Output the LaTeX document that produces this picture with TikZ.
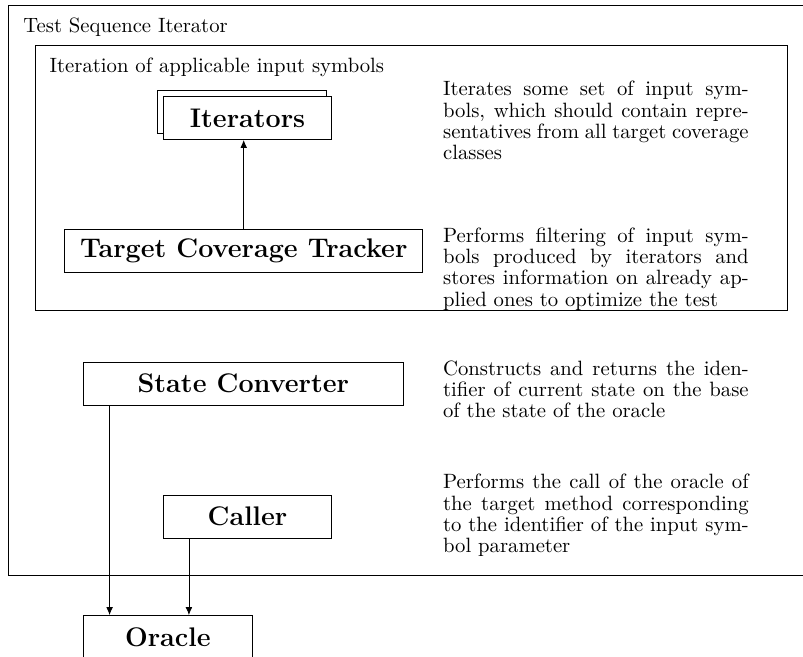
\documentclass[tikz,border=0pt]{standalone}
\usetikzlibrary{shadows,arrows.meta}

\begin{document}
\begin{tikzpicture}[x=0.4831pt, y=-0.4831pt,
		block/.style={draw, fill=white, inner xsep=7.4pt, inner ysep=0pt, minimum width=81.4pt, minimum height=20.8pt, font=\fontsize{13}{15}\selectfont\bfseries},
		note/.style={anchor=west, inner sep=0pt, text width=147.6pt, align=justify, font=\fontsize{10}{10.25}\selectfont},
		heading/.style={anchor=base west, inner sep=0pt},
		flow/.style={-{Latex[length=3.8pt, width=3.2pt]}}
			]
	\clip (0,0) rectangle (803,656);

	% frames
	\draw (8.3,5) rectangle (815,575.7);
	\draw (35.5,45.3) rectangle (787.3,310.7);
	\node[heading] (tsi) at (23,32.3) {Test Sequence Iterator};
	\node[heading] (iaci) at (49.3,72.7) {Iteration of applicable input symbols};

	% components
	\node[block, copy shadow={draw, fill=white, shadow xshift=-2.75pt, shadow yshift=2.9pt}] (iter) at (247.5,118) {Iterators};
	\node[block] (tct) at (243.7,250.8) {Target Coverage Tracker};
	\node[block, minimum width=154.6pt] (sc) at (243.3,383.7) {State Converter};
	\node[block] (caller) at (247.5,516.7) {Caller};
	\node[block] (oracle) at (167.8,637) {Oracle};

	% connections
	\coordinate (sc out) at ([xshift=12.9pt]sc.south west);
	\coordinate (caller out) at ([xshift=12.6pt]caller.south west);
	\draw[flow] (tct.north) -- (tct.north |- iter.south);
	\draw[flow] (sc out) -- (sc out |- oracle.north);
	\draw[flow] (caller out) -- (caller out |- oracle.north);

	% descriptions
	\node[note] (iter note) at (442.7,120.5) {Iterates some set of input symbols, which should contain representatives from all target coverage classes};
	\node[note] (tct note) at (442.7,269) {Performs filtering of input symbols produced by iterators and stores information on already applied ones to optimize the test};
	\node[note] (sc note) at (442.7,389.5) {Constructs and returns the iden\-tifier of current state on the base of the state of the oracle};
	\node[note] (caller note) at (442.7,515.5) {Performs the call of the oracle of the target method corresponding to the identifier of the input symbol parameter};
\end{tikzpicture}
\end{document}
